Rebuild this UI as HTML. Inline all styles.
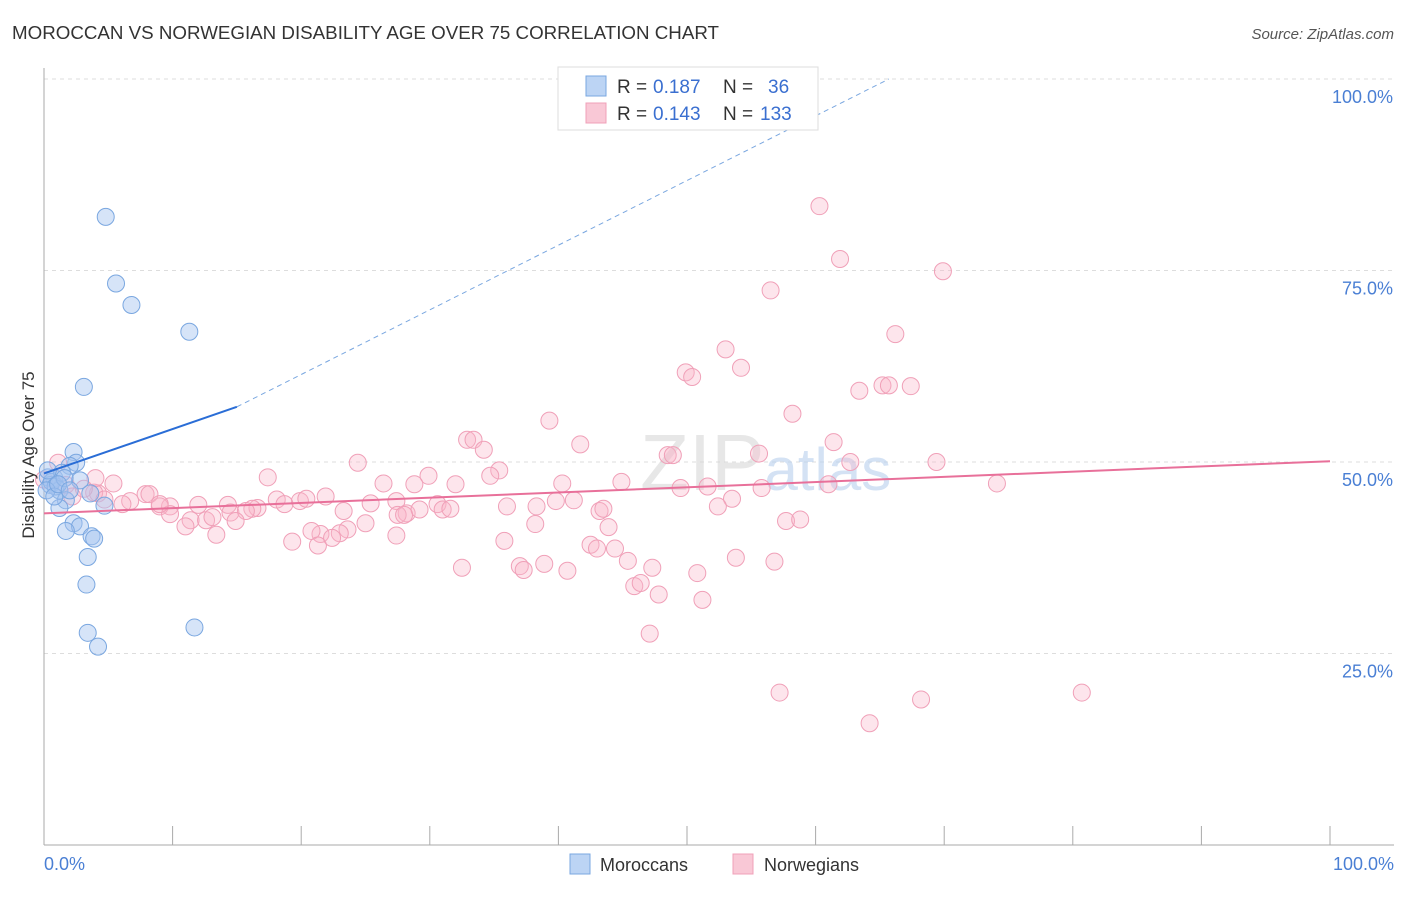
<!DOCTYPE html>
<html><head><meta charset="utf-8"><style>
body{margin:0;background:#fff;font-family:"Liberation Sans",sans-serif}
svg text{font-family:"Liberation Sans",sans-serif}
</style></head><body>
<svg width="1406" height="892" viewBox="0 0 1406 892">
<text x="12" y="39" font-size="18" fill="#333" textLength="707" lengthAdjust="spacingAndGlyphs">MOROCCAN VS NORWEGIAN DISABILITY AGE OVER 75 CORRELATION CHART</text>
<text x="1394" y="39" font-size="15" fill="#555" font-style="italic" text-anchor="end">Source: ZipAtlas.com</text>
<g id="grid"></g>
<g id="axes"></g>
<text x="640" y="490" font-size="80" fill="#d8d8d8" font-family="Liberation Serif" opacity="0.6">ZIP<tspan fill="#b8d0ee" font-family="Liberation Sans" font-size="60">atlas</tspan></text>
<g id="pts"></g>
<g id="lines"></g>
<text transform="translate(34,455) rotate(-90)" font-size="17" fill="#333" text-anchor="middle">Disability Age Over 75</text>
<text x="44" y="870" font-size="18" fill="#4a7fd4">0.0%</text>
<text x="1394" y="870" font-size="18" fill="#4a7fd4" text-anchor="end">100.0%</text>
<g>
<rect x="558" y="67" width="260" height="63" fill="#fff" stroke="#ddd"/>
<rect x="586" y="76" width="20" height="20" fill="#bcd4f4" stroke="#7aa7e0"/>
<rect x="586" y="103" width="20" height="20" fill="#f9c8d6" stroke="#f0a0b8"/>
<text y="93" font-size="19" fill="#333"><tspan x="617">R =</tspan><tspan x="653" fill="#3a6fd0">0.187</tspan><tspan x="723">N =</tspan><tspan x="768" fill="#3a6fd0">36</tspan></text>
<text y="120" font-size="19" fill="#333"><tspan x="617">R =</tspan><tspan x="653" fill="#3a6fd0">0.143</tspan><tspan x="723">N =</tspan><tspan x="760" fill="#3a6fd0">133</tspan></text>
</g>
<g>
<rect x="570" y="854" width="20" height="20" fill="#bcd4f4" stroke="#7aa7e0"/>
<text x="600" y="871" font-size="18" fill="#333">Moroccans</text>
<rect x="733" y="854" width="20" height="20" fill="#f9c8d6" stroke="#f0a0b8"/>
<text x="764" y="871" font-size="18" fill="#333">Norwegians</text>
</g>
</svg>
<script>
const yTicks=[25,50,75,100];
const yTickLabels=["25.0%","50.0%","75.0%","100.0%"];
const xTicks=[0,10,20,30,40,50,60,70,80,90,100];
const moroccanX=[4.8,5.6,6.8,11.3,3.1,2.3,2.5,2.0,2.8,0.8,0.3,0.5,1.2,1.7,3.6,4.7,1.2,2.3,2.8,1.7,3.7,3.9,3.4,3.3,3.4,4.2,11.7,0.6,0.9,1.4,0.2,0.8,1.6,1.1,2.0,0.3];
const moroccanY=[82,73.3,70.5,67,59.8,51.3,49.9,49.5,47.6,47.9,48,47,46.3,45,45.9,44.3,44,42,41.6,41,40.3,40,37.6,34,27.7,25.9,28.4,47.4,46.8,48.6,46.3,45.5,47.9,47.1,46.3,48.9];
const norX=[60.3,61.9,69.9,56.5,66.2,53,54.2,49.9,50.4,63.4,65.2,65.7,67.4,58.2,39.3,41.7,32.9,33.4,34.2,61.4,48.5,48.9,55.6,62.7,69.4,24.4,35.4,34.7,17.4,29.9,26.4,28.8,32,40.3,44.9,49.5,51.6,74.1,61,55.8,21.9,18.1,19.9,20.4,25.4,5.4,4.2,6.7,7.9,8.2,9.8,9,6.1,30.6,31,31.6,39.8,41.2,43.2,53.5,52.4,27.4,28.2,29.2,16.6,16.2,14.3,14.5,15.7,18.7,12,11.4,11,12.6,13.1,13.4,14.9,23.3,23.6,25,23,21.5,20.8,19.3,21.3,22.4,27.5,28,27.4,36,38.3,38.2,43.5,43.9,35.8,42.5,43,44.4,53.8,56.8,57.7,58.8,32.5,37,37.3,38.9,40.7,45.4,47.3,50.8,45.9,46.4,47.8,51.2,47.1,57.2,68.2,64.2,80.7,1.1,0,1.7,2.2,3.9,4,3.1,4.7,9.8,9];
const norY=[83.4,76.5,74.9,72.4,66.7,64.7,62.3,61.7,61.1,59.3,60,60,59.9,56.3,55.4,52.3,52.9,52.9,51.6,52.6,50.9,50.9,51.1,50,50,49.9,48.9,48.2,48,48.2,47.2,47.1,47.1,47.2,47.4,46.6,46.8,47.2,47.1,46.6,45.5,45.1,44.9,45.2,44.6,47.2,45.9,44.9,45.8,45.8,44.2,44.2,44.5,44.5,43.8,43.9,44.9,45,43.6,45.2,44.2,44.9,43.3,43.8,44,43.9,44.4,43.4,43.6,44.5,44.4,42.4,41.6,42.4,42.8,40.5,42.3,43.6,41.2,42,40.7,40.6,41,39.6,39.1,40.1,43.1,43.1,40.4,44.2,44.2,41.9,43.9,41.5,39.7,39.2,38.7,38.7,37.5,37,42.3,42.5,36.2,36.4,35.9,36.7,35.8,37.1,36.2,35.5,33.8,34.2,32.7,32,27.6,19.9,19,15.9,19.9,49.9,47.7,47,45.5,46,47.9,46.5,45.1,43.2,44.5];
const blueLine=[0,48.5,15,57.2];
const blueDash=[15,57.2,65.7,100];
const pinkLine=[0,43.3,100,50.1];
const X0=44,X1=1330,Y0=845,PY=7.66;
const xs=v=>X0+(X1-X0)*v/100, ys=v=>Y0-v*PY;
const NS="http://www.w3.org/2000/svg";
function mk(t,a,p){const e=document.createElementNS(NS,t);for(const k in a)e.setAttribute(k,a[k]);document.getElementById(p).appendChild(e);return e;}
yTicks.forEach((t,i)=>{
 const l=mk('line',{x1:X0,x2:1394,y1:ys(t),y2:ys(t),stroke:'#ddd','stroke-dasharray':'4,4'},'grid');
 
 
 const tx=mk('text',{x:1393,y:ys(t)+24,'font-size':18,fill:'#4a7fd4','text-anchor':'end'},'grid');
 tx.textContent=yTickLabels[i];
 
 
});
const ax=mk('line',{x1:X0,x2:X0,y1:68,y2:Y0,stroke:'#aaa'},'axes');


const bx=mk('line',{x1:X0,x2:1394,y1:Y0,y2:Y0,stroke:'#aaa'},'axes');


xTicks.forEach(t=>{
 const l=mk('line',{x1:xs(t),x2:xs(t),y1:826,y2:Y0,stroke:'#aaa'},'axes');
 
 
});
norX.forEach((x,i)=>{
 const c=mk('circle',{cx:xs(x),cy:ys(norY[i]),r:8.5,fill:'rgba(248,180,200,0.35)',stroke:'#f0a0b8','stroke-width':1},'pts');
 
 
});
moroccanX.forEach((x,i)=>{
 const c=mk('circle',{cx:xs(x),cy:ys(moroccanY[i]),r:8.5,fill:'rgba(164,196,240,0.45)',stroke:'#7aa7e0','stroke-width':1},'pts');
 
 
});
const bl=mk('line',{x1:xs(blueLine[0]),y1:ys(blueLine[1]),x2:xs(blueLine[2]),y2:ys(blueLine[3]),stroke:'#2a6dd6','stroke-width':2},'lines');


const bd=mk('line',{x1:xs(blueDash[0]),y1:ys(blueDash[1]),x2:xs(blueDash[2]),y2:ys(blueDash[3]),stroke:'#7aa7e0','stroke-width':1,'stroke-dasharray':'5,4'},'lines');


const pl=mk('line',{x1:xs(pinkLine[0]),y1:ys(pinkLine[1]),x2:xs(pinkLine[2]),y2:ys(pinkLine[3]),stroke:'#e8709a','stroke-width':2},'lines');


</script>
</body></html>
